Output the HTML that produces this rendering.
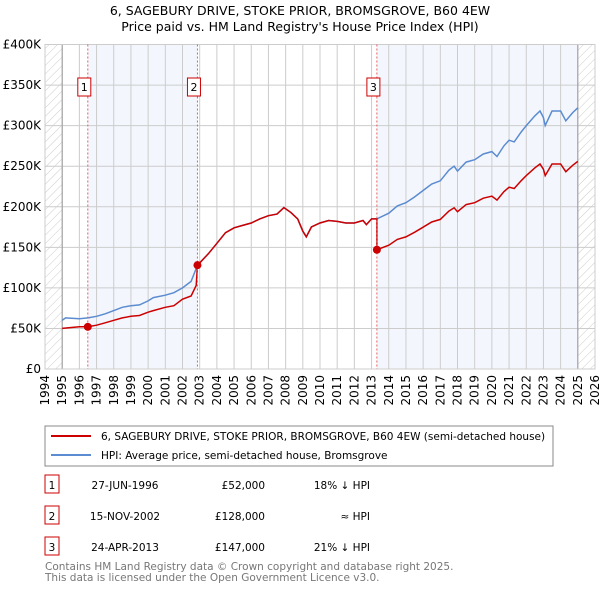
<!DOCTYPE html>
<html><head><meta charset="utf-8"><style>
body{margin:0;width:600px;height:590px;background:#fff;font-family:"Liberation Sans","DejaVu Sans",sans-serif;overflow:hidden}
svg text{font-family:"DejaVu Sans","Liberation Sans",sans-serif}
</style></head><body>
<svg id="c" width="600" height="590">
<defs><pattern id="h" width="6" height="6" patternUnits="userSpaceOnUse" patternTransform="rotate(45)"><line x1="0" y1="0" x2="0" y2="6" stroke="#ccc" stroke-width="1"/></pattern></defs>
<text x="300" y="15" text-anchor="middle" font-size="12.5">6, SAGEBURY DRIVE, STOKE PRIOR, BROMSGROVE, B60 4EW</text>
<text x="300" y="31" text-anchor="middle" font-size="12.5">Price paid vs. HM Land Registry's House Price Index (HPI)</text>
<g id="plot"></g>
<rect x="45" y="426" width="508" height="40" fill="#fff" stroke="#888"/>
<line x1="51" y1="436" x2="91" y2="436" stroke="#cc0000" stroke-width="2"/>
<text x="101" y="440" font-size="10.5">6, SAGEBURY DRIVE, STOKE PRIOR, BROMSGROVE, B60 4EW (semi-detached house)</text>
<line x1="51" y1="455" x2="91" y2="455" stroke="#5b8bd0" stroke-width="2"/>
<text x="101" y="459" font-size="10.5">HPI: Average price, semi-detached house, Bromsgrove</text>
<g id="tbl" font-size="10.5"></g>
<text x="45" y="570" font-size="10.5" fill="#777">Contains HM Land Registry data © Crown copyright and database right 2025.</text>
<text x="45" y="581" font-size="10.5" fill="#777">This data is licensed under the Open Government Licence v3.0.</text>
</svg>
<script>
const yTicks=[0,50,100,150,200,250,300,350,400];
const yLabels=["£0","£50K","£100K","£150K","£200K","£250K","£300K","£350K","£400K"];
const xYears=[1994,1995,1996,1997,1998,1999,2000,2001,2002,2003,2004,2005,2006,2007,2008,2009,2010,2011,2012,2013,2014,2015,2016,2017,2018,2019,2020,2021,2022,2023,2024,2025,2026];
const hpiT=[1995,1995.2,1996,1996.5,1997,1997.5,1998,1998.5,1999,1999.5,2000,2000.3,2001,2001.5,2002,2002.5,2002.87,2003.5,2004,2004.5,2005,2005.5,2006,2006.5,2007,2007.5,2007.9,2008.3,2008.7,2009,2009.2,2009.5,2010,2010.5,2011,2011.5,2012,2012.5,2012.7,2013,2013.31,2014,2014.5,2015,2015.5,2016,2016.5,2017,2017.5,2017.8,2018,2018.5,2019,2019.5,2020,2020.3,2020.7,2021,2021.3,2021.7,2022,2022.5,2022.8,2023,2023.1,2023.5,2024,2024.3,2024.7,2025];
const hpiV=[60,63,62,63,65,68,72,76,78,79,84,88,91,94,100,108,128,142,155,168,174,177,180,185,189,191,199,193,185,170,163,175,180,183,182,180,180,183,178,185,185,192,201,205,212,220,228,232,245,250,244,255,258,265,268,262,275,282,280,292,300,312,318,310,300,318,318,306,316,322];
const redEarlyT=[1995,1996,1996.49,1997,1997.5,1998,1998.5,1999,1999.5,2000,2000.3,2001,2001.5,2002,2002.5,2002.8];
const redEarlyV=[50,52,52,54,57,60,63,65,66,70,72,76,78,86,90,103];
const saleT=[1996.49,2002.87,2013.31];
const saleV=[52,128,147];
const saleLabels=["1","2","3"];
const saleDates=["27-JUN-1996","15-NOV-2002","24-APR-2013"];
const salePrices=["£52,000","£128,000","£147,000"];
const saleHpi=["18% ↓ HPI","≈ HPI","21% ↓ HPI"];
const X0=45,X1=595,Y0=369,Y1=44.5;
const xs=t=>X0+(t-1994)/(2026-1994)*(X1-X0);
const ys=v=>Y0-v/400*(Y0-Y1);
const NS="http://www.w3.org/2000/svg";
const g=document.getElementById('plot');
function mk(tag,a,par){const e=document.createElementNS(NS,tag);for(const k in a)e.setAttribute(k,a[k]);(par||g).appendChild(e);return e;}
let e;
e=mk('rect',{x:xs(1994),y:Y1,width:xs(1995)-xs(1994),height:Y0-Y1,fill:'url(#h)'});


e=mk('rect',{x:xs(2025.0),y:Y1,width:xs(2026)-xs(2025.0),height:Y0-Y1,fill:'url(#h)'});


e=mk('rect',{x:xs(saleT[0]),y:Y1,width:xs(saleT[1])-xs(saleT[0]),height:Y0-Y1,fill:'#eef3fc',opacity:0.7});


e=mk('rect',{x:xs(saleT[2]),y:Y1,width:xs(2025.0)-xs(saleT[2]),height:Y0-Y1,fill:'#eef3fc',opacity:0.7});


yTicks.forEach((v,i)=>{
 e=mk('line',{x1:X0,x2:X1,y1:ys(v),y2:ys(v),stroke:'#ccc'});
 
 
 e=mk('text',{x:X0-4,y:ys(v)+4,'text-anchor':'end','font-size':12});
 e.textContent=yLabels[i];
 
 
});
xYears.forEach(y=>{
 e=mk('line',{x1:xs(y),x2:xs(y),y1:Y1,y2:Y0,stroke:'#ccc'});
 
 
 e=mk('text',{x:0,y:0,'font-size':12,'text-anchor':'end',transform:`translate(${xs(y)+4},${Y0+6}) rotate(-90)`});
 e.textContent=y;
 
 
});
[1995,2025].forEach(y=>{e=mk('line',{x1:xs(y),x2:xs(y),y1:Y1,y2:Y0,stroke:'#999'});
 
 });
e=mk('rect',{x:X0,y:Y1,width:X1-X0,height:Y0-Y1,fill:'none',stroke:'#ccc'});


const hp=hpiT.map((t,i)=>xs(t).toFixed(1)+','+ys(hpiV[i]).toFixed(1)).join(' ');
e=mk('polyline',{points:hp,fill:'none',stroke:'#5b8bd0','stroke-width':1.5});


function hpiAt(t){for(let i=1;i<hpiT.length;i++){if(t<=hpiT[i]){const f=(t-hpiT[i-1])/(hpiT[i]-hpiT[i-1]);return hpiV[i-1]+f*(hpiV[i]-hpiV[i-1]);}}return hpiV[hpiV.length-1];}
let rp=redEarlyT.map((t,i)=>[t,redEarlyV[i]]);
rp.push([saleT[1],saleV[1]]);
const r2=saleV[1]/hpiAt(saleT[1]);
hpiT.forEach((t,i)=>{if(t>saleT[1]&&t<saleT[2])rp.push([t,hpiV[i]*r2]);});
rp.push([saleT[2],hpiAt(saleT[2])*r2]);
rp.push([saleT[2],saleV[2]]);
const r3=saleV[2]/hpiAt(saleT[2]);
hpiT.forEach((t,i)=>{if(t>saleT[2])rp.push([t,hpiV[i]*r3]);});
e=mk('polyline',{points:rp.map(p=>xs(p[0]).toFixed(1)+','+ys(p[1]).toFixed(1)).join(' '),fill:'none',stroke:'#cc0000','stroke-width':1.5});


saleT.forEach((t,i)=>{
 e=mk('line',{x1:xs(t),x2:xs(t),y1:Y1,y2:Y0,stroke:'#e06060','stroke-dasharray':'2,2'});
 
 
 e=mk('circle',{cx:xs(t),cy:ys(saleV[i]),r:4,fill:'#cc0000'});
 
 
 e=mk('rect',{x:xs(t)-10,y:78,width:13,height:18,fill:'#fff',stroke:'#cc0000'});
 
 
 e=mk('text',{x:xs(t)-3.5,y:91,'text-anchor':'middle','font-size':11});
 e.textContent=saleLabels[i];
 
 
});
const tb=document.getElementById('tbl');
saleT.forEach((t,i)=>{
 const y=487+i*31;
 e=mk('rect',{x:45,y:y-12,width:14,height:18,fill:'#fff',stroke:'#cc0000'},tb);
 
 
 e=mk('text',{x:52,y:y+2,'text-anchor':'middle'},tb);e.textContent=saleLabels[i];
 
 
 e=mk('text',{x:125,y:y+2,'text-anchor':'middle'},tb);e.textContent=saleDates[i];
 
 
 e=mk('text',{x:265,y:y+2,'text-anchor':'end'},tb);e.textContent=salePrices[i];
 
 
 e=mk('text',{x:370,y:y+2,'text-anchor':'end'},tb);e.textContent=saleHpi[i];
 
 
});
</script>
</body></html>
